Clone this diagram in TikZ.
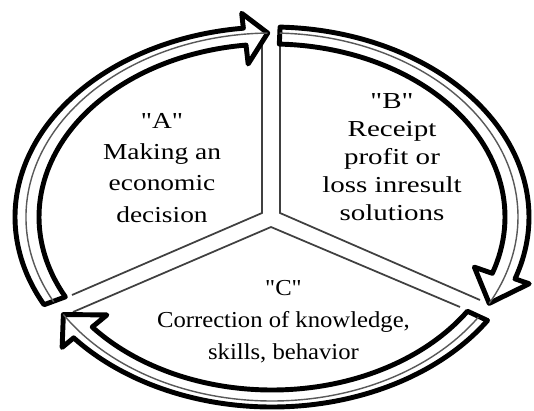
\documentclass[tikz,border=0pt]{standalone}
\usepackage{fontspec}
\setmainfont{Liberation Serif}
\newfontfamily\wideA[FakeStretch=1.2]{Liberation Serif}
\newfontfamily\wideB[FakeStretch=1.27]{Liberation Serif}
\newfontfamily\wideC[FakeStretch=1.08]{Liberation Serif}
\usetikzlibrary{positioning}

% one hollow arrow on the ring: tail angle, head base angle, tip angle
\newcommand{\ringarrow}[3]{%
\draw[ringedge] (#1:257 and 190) arc[start angle=#1, end angle=#2, x radius=257, y radius=190]
  -- (#2:272 and 205) -- (#3:246 and 184) -- (#2:214 and 154) -- (#2:233 and 173)
  arc[start angle=#2, end angle=#1, x radius=233, y radius=173] -- cycle;
\draw[ringmid] (#1:246 and 184) arc[start angle=#1, end angle=#3, x radius=246, y radius=184];
}

\begin{document}
\begin{tikzpicture}[x=0.02cm, y=0.02cm,
  ringedge/.style={draw=black, line width=2.8pt, fill=white, line join=round},
  ringmid/.style={draw=black!65, line width=0.8pt},
  spoke/.style={draw=black!75, line width=1pt},
  lbl/.style={align=center, inner sep=0pt, anchor=north, text=black}]

\useasboundingbox (-272,-193) rectangle (262,217);

% spokes
\draw[spoke] (-10,184) -- (-10,4) -- (-200,-78);
\draw[spoke] (8,174) -- (8,4) -- (208,-83);
\draw[spoke] (-199,-95) -- (-1,-10) -- (188,-90);

% arrows round the ring
\ringarrow{207.5}{96.4}{91}
\ringarrow{88.2}{-19}{-28}
\ringarrow{327}{219.5}{212}

% nodes
\node[lbl, font=\wideA\fontsize{13}{17.8}\selectfont] (A) at (-110,104)
{"A"\\Making an\\economic\\decision};
\node[lbl, font=\wideB\fontsize{13}{16}\selectfont] (B) at (120,124)
{"B"\\Receipt\\profit or\\loss inresult\\solutions};
\node[lbl, font=\wideC\fontsize{13}{18.1}\selectfont] (C) at (11.5,-63)
{"C"\\Correction of knowledge,\\skills, behavior};

\end{tikzpicture}
\end{document}
